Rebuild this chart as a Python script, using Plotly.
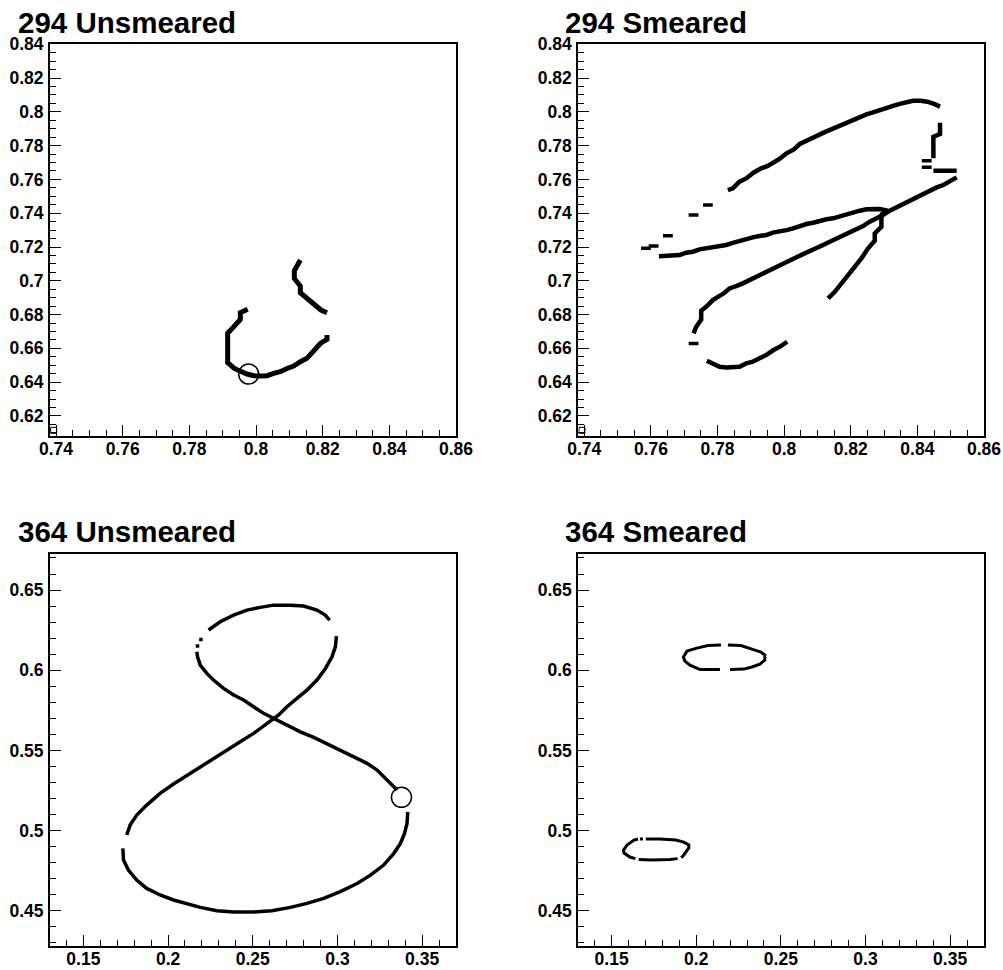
import plotly.graph_objects as go

W, H = 1003, 970

# ---------------- run 294, unsmeared track ----------------
u294_x = [0.8133, 0.8115, 0.8115, 0.8133, 0.8133, 0.8153, 0.8175, 0.8195, 0.8213, None,
          0.8213, 0.8213, 0.8193, 0.8175, 0.8153, 0.8133, 0.8113, 0.8093, 0.8073, 0.8053,
          0.8033, 0.8013, 0.7993, 0.7973, 0.7953, 0.7935, 0.7915, 0.7915, 0.7915, 0.7915,
          0.7935, 0.7953, 0.7953, 0.7975]
u294_y = [0.7123, 0.7060, 0.7014, 0.6969, 0.6929, 0.6896, 0.6860, 0.6827, 0.6811, None,
          0.6679, 0.6653, 0.6629, 0.6586, 0.6541, 0.6521, 0.6495, 0.6481, 0.6462, 0.6452,
          0.6438, 0.6436, 0.6438, 0.6448, 0.6462, 0.6481, 0.6515, 0.6570, 0.6629, 0.6689,
          0.6732, 0.6771, 0.6811, 0.6831]
u294_start = (0.7978, 0.6448)

# ---------------- run 294, smeared track ----------------
s294_x = (
    # upper arc
    [0.7831, 0.7846, 0.7866, 0.7886, 0.7908, 0.7931, 0.7951, 0.7968, 0.7986, 0.8007,
     0.8029, 0.8047, 0.8067, 0.8087, 0.8107, 0.8125, 0.8145, 0.8167, 0.8187, 0.8207,
     0.8227, 0.8247, 0.8267, 0.8287, 0.8307, 0.8327, 0.8347, 0.8367, 0.8387, 0.8410,
     0.8430, 0.8450, 0.8468, None]
    # right-hand drop
    + [0.8468, 0.8468, 0.8448, 0.8448, None]
    + [0.8448, 0.8518, None]
    # long diagonal
    + [0.8518, 0.8498, 0.8478, 0.8458, 0.8438, 0.8418, 0.8397, 0.8377, 0.8357, 0.8337,
       0.8317, 0.8297, 0.8277, 0.8257, 0.8237, 0.8217, 0.8197, 0.8177, 0.8157, 0.8137,
       0.8117, 0.8097, 0.8077, 0.8057, 0.8037, 0.8017, 0.7996, 0.7976, 0.7956, 0.7936,
       0.7916, 0.7896, 0.7876, 0.7856, 0.7836, 0.7821, 0.7806, 0.7786, 0.7771, 0.7751,
       0.7751, 0.7736, 0.7728, None]
    # bottom arc
    + [0.7768, 0.7786, 0.7806, 0.7826, 0.7846, 0.7866, 0.7886, 0.7906, 0.7926, 0.7946,
       0.7968, 0.7988, 0.8009, None]
    # middle line and steep return
    + [0.7624, 0.7646, 0.7666, 0.7686, 0.7706, 0.7726, 0.7746, 0.7766, 0.7786, 0.7806,
       0.7826, 0.7846, 0.7866, 0.7886, 0.7906, 0.7926, 0.7946, 0.7966, 0.7986, 0.8007,
       0.8027, 0.8047, 0.8067, 0.8087, 0.8107, 0.8127, 0.8147, 0.8167, 0.8187, 0.8207,
       0.8227, 0.8247, 0.8267, 0.8287, 0.8302,
       0.8292, 0.8292, 0.8272, 0.8272, 0.8252, 0.8232, 0.8212, 0.8192, 0.8172, 0.8152,
       0.8132]
)
s294_y = (
    [0.7537, 0.7547, 0.7587, 0.7606, 0.7640, 0.7666, 0.7680, 0.7699, 0.7721, 0.7755,
     0.7778, 0.7810, 0.7830, 0.7849, 0.7869, 0.7883, 0.7899, 0.7918, 0.7936, 0.7952,
     0.7968, 0.7985, 0.7997, 0.8011, 0.8027, 0.8035, 0.8047, 0.8057, 0.8066, 0.8066,
     0.8060, 0.8047, 0.8031, None]
    + [0.7936, 0.7869, 0.7853, 0.7725, None]
    + [0.7652, 0.7652, None]
    + [0.7612, 0.7587, 0.7567, 0.7553, 0.7533, 0.7518, 0.7498, 0.7478, 0.7458, 0.7439,
       0.7415, 0.7389, 0.7370, 0.7350, 0.7324, 0.7304, 0.7285, 0.7265, 0.7245, 0.7231,
       0.7212, 0.7196, 0.7178, 0.7158, 0.7139, 0.7119, 0.7099, 0.7079, 0.7064, 0.7040,
       0.7020, 0.7000, 0.6985, 0.6969, 0.6955, 0.6929, 0.6910, 0.6886, 0.6856, 0.6823,
       0.6771, 0.6728, 0.6689, None]
    + [0.6527, 0.6511, 0.6491, 0.6487, 0.6487, 0.6491, 0.6511, 0.6521, 0.6541, 0.6560,
       0.6590, 0.6610, 0.6639, None]
    + [0.7146, 0.7146, 0.7146, 0.7152, 0.7166, 0.7172, 0.7186, 0.7192, 0.7198, 0.7206,
       0.7212, 0.7225, 0.7237, 0.7245, 0.7257, 0.7265, 0.7271, 0.7285, 0.7291, 0.7300,
       0.7310, 0.7324, 0.7336, 0.7344, 0.7356, 0.7364, 0.7370, 0.7383, 0.7393, 0.7403,
       0.7415, 0.7423, 0.7425, 0.7425, 0.7419,
       0.7389, 0.7320, 0.7281, 0.7237, 0.7192, 0.7133, 0.7083, 0.7040, 0.6985, 0.6935,
       0.6896]
)
# isolated filled bins
s294_dot_x = [0.7585, 0.7608, 0.7651, 0.7728, 0.7771, 0.8428, 0.8428, 0.7728]
s294_dot_y = [0.7192, 0.7206, 0.7267, 0.7389, 0.7449, 0.7711, 0.7672, 0.6629]

# corner bin shown on both run-294 pads
corner294 = (0.7393, 0.6115)

# ---------------- run 364, unsmeared track ----------------
u364_x = (
    [0.3352, 0.3293, 0.3234, 0.3175, 0.3096, 0.3017, 0.2938, 0.2860, 0.2781, 0.2702,
     0.2623, 0.2564, 0.2505, 0.2446, 0.2387, 0.2328, 0.2268, 0.2229, 0.2190, 0.2174,
     0.2170, None]
    + [0.2239, 0.2308, 0.2387, 0.2466, 0.2544, 0.2623, 0.2722, 0.2800, 0.2879, 0.2928,
       0.2954, None]
    + [0.2994, 0.2988, 0.2968, 0.2929, 0.2879, 0.2820, 0.2761, 0.2702, 0.2653, 0.2613,
       0.2564, 0.2505, 0.2426, 0.2347, 0.2268, 0.2190, 0.2111, 0.2032, 0.1953, 0.1874,
       0.1815, 0.1776, 0.1756, None]
    + [0.1733, 0.1737, 0.1766, 0.1815, 0.1874, 0.1953, 0.2032, 0.2111, 0.2190, 0.2288,
       0.2387, 0.2505, 0.2613, 0.2722, 0.2820, 0.2919, 0.3017, 0.3116, 0.3195, 0.3273,
       0.3333, 0.3372, 0.3396, 0.3411, 0.3415]
)
u364_y = (
    [0.5253, 0.5319, 0.5377, 0.5419, 0.5460, 0.5502, 0.5544, 0.5581, 0.5616, 0.5658,
     0.5700, 0.5731, 0.5772, 0.5814, 0.5845, 0.5887, 0.5939, 0.5980, 0.6032, 0.6084,
     0.6115, None]
    + [0.6251, 0.6302, 0.6344, 0.6375, 0.6392, 0.6406, 0.6406, 0.6400, 0.6375, 0.6344,
       0.6313, None]
    + [0.6213, 0.6147, 0.6084, 0.6011, 0.5939, 0.5876, 0.5824, 0.5772, 0.5721, 0.5689,
       0.5648, 0.5606, 0.5554, 0.5502, 0.5450, 0.5398, 0.5346, 0.5290, 0.5232, 0.5159,
       0.5097, 0.5034, 0.4972, None]
    + [0.4889, 0.4816, 0.4754, 0.4691, 0.4639, 0.4598, 0.4567, 0.4542, 0.4521, 0.4500,
       0.4492, 0.4492, 0.4500, 0.4521, 0.4546, 0.4577, 0.4619, 0.4670, 0.4722, 0.4785,
       0.4858, 0.4920, 0.4982, 0.5045, 0.5117]
)
u364_dot_x = [0.2174, 0.2194]
u364_dot_y = [0.6151, 0.6192]
u364_start = (0.3378, 0.5207)

# ---------------- run 364, smeared track ----------------
s364_x = (
    [0.2146, 0.2069, 0.2004, 0.1945, 0.1924, 0.1933, 0.1963, 0.2022, 0.2140, None]
    + [0.2187, 0.2264, 0.2329, 0.2382, 0.2405, 0.2405, 0.2376, 0.2329, 0.2282, 0.2199, None]
    + [0.1656, 0.1632, 0.1591, 0.1570, 0.1573, 0.1608, 0.1640, None]
    + [0.1660, 0.1738, 0.1844, 0.1890, None]
    + [0.1910, 0.1921, 0.1938, 0.1956, 0.1956, 0.1926, 0.1879, 0.1785, 0.1702]
)
s364_y = (
    [0.6157, 0.6154, 0.6138, 0.6119, 0.6082, 0.6057, 0.6032, 0.6004, 0.6004, None]
    + [0.6157, 0.6154, 0.6132, 0.6113, 0.6095, 0.6063, 0.6038, 0.6020, 0.6007, 0.6004, None]
    + [0.4947, 0.4941, 0.4910, 0.4878, 0.4860, 0.4835, 0.4825, None]
    + [0.4820, 0.4816, 0.4819, 0.4825, None]
    + [0.4832, 0.4840, 0.4866, 0.4891, 0.4910, 0.4928, 0.4941, 0.4947, 0.4947]
)
s364_dot_x = [0.1676]
s364_dot_y = [0.4947]

# ---------------- axes ----------------
ticks294_x = [0.74, 0.76, 0.78, 0.80, 0.82, 0.84, 0.86]
labels294_x = ["0.74", "0.76", "0.78", "0.8", "0.82", "0.84", "0.86"]
ticks294_y = [0.62, 0.64, 0.66, 0.68, 0.70, 0.72, 0.74, 0.76, 0.78, 0.80, 0.82, 0.84]
labels294_y = ["0.62", "0.64", "0.66", "0.68", "0.7", "0.72", "0.74", "0.76", "0.78",
               "0.8", "0.82", "0.84"]
ticks364_x = [0.15, 0.20, 0.25, 0.30, 0.35]
labels364_x = ["0.15", "0.2", "0.25", "0.3", "0.35"]
ticks364_y = [0.45, 0.50, 0.55, 0.60, 0.65]
labels364_y = ["0.45", "0.5", "0.55", "0.6", "0.65"]

range294_x = [0.7382, 0.86]
range294_y = [0.6083, 0.84]
range364_x = [0.1303, 0.3700]
range364_y = [0.4280, 0.6723]

titles = ["294 Unsmeared", "294 Smeared", "364 Unsmeared", "364 Smeared"]
# title left edge and vertical centre, in pixels
title_pos = [(18, 23.5), (565, 23.5), (18, 533), (565, 533)]

FONT = "Liberation Sans, Arial, Helvetica, sans-serif"

# pad frames in pixels: (left, top, right, bottom)
frames = [(50, 44.3, 456, 435.7), (578.3, 44.3, 984, 435.7),
          (50, 554.3, 456, 946), (578.3, 554.3, 984, 946)]


def axis(dom, rng, tv, tt, minor_step, anchor, standoff):
    return dict(
        domain=dom, range=rng, anchor=anchor, autorange=False, automargin=False,
        tickmode="array", tickvals=tv, ticktext=tt,
        ticks="inside", ticklen=11, tickwidth=1.2, tickcolor="black",
        minor=dict(dtick=minor_step, tick0=0, ticks="inside", ticklen=6,
                   tickwidth=1.2, tickcolor="black"),
        showline=True, linecolor="black", linewidth=2, mirror=True,
        showgrid=False, zeroline=False,
        tickfont=dict(family=FONT, size=17.5, color="black", weight="bold"),
        ticklabelstandoff=standoff,
    )


layout = dict(width=W, height=H, autosize=False,
              margin=dict(l=0, r=0, t=0, b=0, pad=0, autoexpand=False),
              paper_bgcolor="white", plot_bgcolor="white", showlegend=False)

specs = [(range294_x, range294_y, ticks294_x, labels294_x, ticks294_y, labels294_y, 0.005, 0.005),
         (range294_x, range294_y, ticks294_x, labels294_x, ticks294_y, labels294_y, 0.005, 0.005),
         (range364_x, range364_y, ticks364_x, labels364_x, ticks364_y, labels364_y, 0.01, 0.01),
         (range364_x, range364_y, ticks364_x, labels364_x, ticks364_y, labels364_y, 0.01, 0.01)]

annotations = []
for i, (fr, sp) in enumerate(zip(frames, specs)):
    n = "" if i == 0 else str(i + 1)
    l, t, r, b = fr
    xd = [l / W, r / W]
    yd = [1 - b / H, 1 - t / H]
    rx, ry, tx, lx, ty, ly, mx, my = sp
    layout["xaxis" + n] = axis(xd, rx, tx, lx, mx, "y" + n, -4)
    layout["yaxis" + n] = axis(yd, ry, ty, ly, my, "x" + n, 1)
    tx_, ty_ = title_pos[i]
    annotations.append(dict(
        text="<b>" + titles[i] + "</b>", xref="paper", yref="paper",
        x=(tx_ - 2) / W, y=1 - (ty_ - 1.5) / H, xanchor="left", yanchor="middle",
        showarrow=False, font=dict(family=FONT, size=29.5, color="black")))
layout["annotations"] = annotations

fig = go.Figure(layout=layout)


def track(x, y, width, ax):
    fig.add_trace(go.Scatter(x=x, y=y, mode="lines", connectgaps=False,
                             line=dict(color="black", width=width),
                             xaxis="x" + ax, yaxis="y" + ax, hoverinfo="skip"))


def bins(x, y, symbol, size, lw, ax):
    fig.add_trace(go.Scatter(x=x, y=y, mode="markers",
                             marker=dict(symbol=symbol, size=size, color="black",
                                         line=dict(color="black", width=lw)),
                             xaxis="x" + ax, yaxis="y" + ax, hoverinfo="skip"))


def start(pt, ax):
    fig.add_trace(go.Scatter(x=[pt[0]], y=[pt[1]], mode="markers",
                             marker=dict(symbol="circle-open", size=20, color="black",
                                         line=dict(color="black", width=1.5)),
                             xaxis="x" + ax, yaxis="y" + ax, hoverinfo="skip"))


# pad 1
track(u294_x, u294_y, 5, "")
start(u294_start, "")
bins([corner294[0]], [corner294[1]], "square-open", 6, 1, "")

# pad 2
track(s294_x, s294_y, 4.5, "2")
bins(s294_dot_x, s294_dot_y, "line-ew", 7, 3.5, "2")
bins([corner294[0]], [corner294[1]], "square-open", 6, 1, "2")

# pad 3
track(u364_x, u364_y, 3.5, "3")
bins(u364_dot_x, u364_dot_y, "square", 3.5, 0, "3")
start(u364_start, "3")

# pad 4
track(s364_x, s364_y, 3, "4")
bins(s364_dot_x, s364_dot_y, "square", 3, 0, "4")

fig.write_html("out.html")
